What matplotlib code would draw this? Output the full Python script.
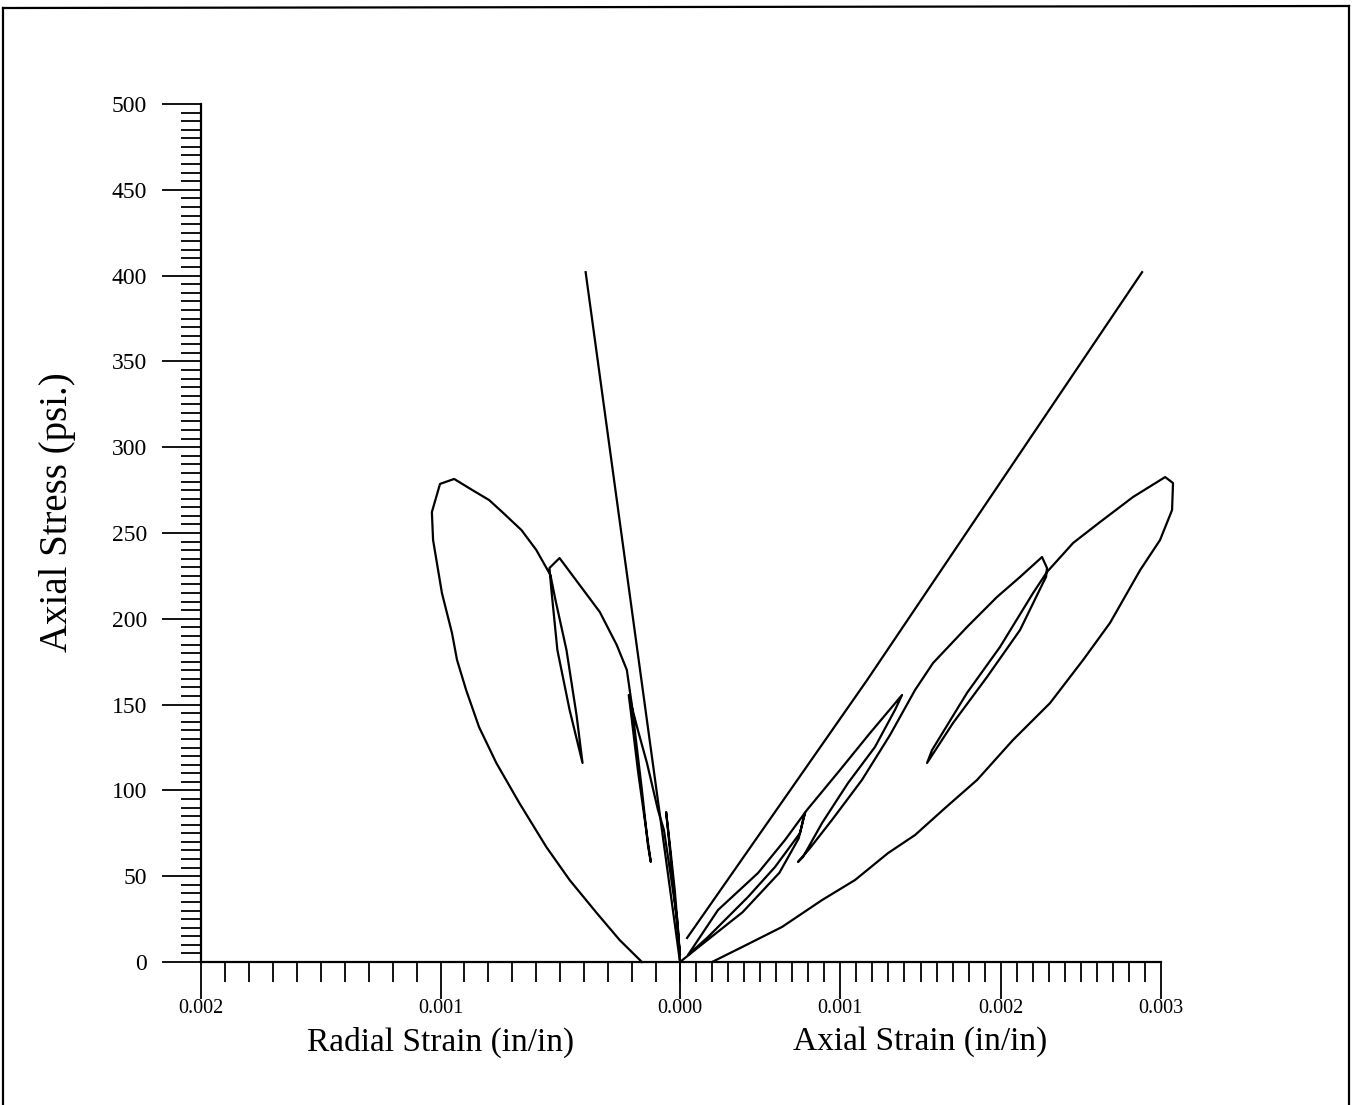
import matplotlib
matplotlib.use('Agg')
import numpy as np
import matplotlib.pyplot as plt
from matplotlib.ticker import MultipleLocator, FixedLocator, FixedFormatter
from matplotlib.lines import Line2D

# ---------------- data (strain in units of 0.001 in/in, stress in psi) -------------
# cyclic loading path, radial side
radial_strain_milli = [0, 0.008, 0.022, 0.040, 0.058,
                       0.048, 0.030, 0.012, 0.0,
                       0.013, 0.042, 0.067, 0.092, 0.138, 0.176, 0.214,
                       0.201, 0.176, 0.147, 0.122,
                       0.134, 0.159, 0.184, 0.201, 0.222, 0.264, 0.335, 0.419, 0.503,
                       0.545, 0.537, 0.512, 0.461, 0.407,
                       0.432, 0.474, 0.520, 0.541, 0.600, 0.662, 0.742, 0.797, 0.868, 0.943,
                       1.002, 1.036, 1.031, 0.994, 0.952, 0.931, 0.893, 0.839, 0.767, 0.671,
                       0.558, 0.461, 0.348, 0.252, 0.159]
radial_stress = [0, 18.6, 42.0, 65.3, 87.4,
                 74.0, 47.8, 21.6, 4.1,
                 26.2, 53.6, 76.9, 88.6, 116.0, 135.2, 155.6,
                 141.0, 111.9, 82.8, 58.3,
                 68.2, 100.2, 129.4, 149.8, 170.2, 184.7, 204.0, 219.7, 235.4,
                 229.6, 216.8, 181.8, 146.9, 116.0,
                 143.9, 181.8, 211.0, 225.5, 240.1, 251.7, 262.2, 269.2, 275.1, 281.5,
                 278.6, 262.2, 245.9, 215.0, 191.7, 176.0, 158.5, 136.9, 116.0, 92.7,
                 67.0, 47.8, 28.6, 12.8, 0]

# cyclic loading path, axial side
axial_strain_milli = [0, 0.12, 0.39, 0.62, 0.74, 0.78,
                      0.767, 0.749, 0.593, 0.424, 0.175, 0.05,
                      0.237, 0.487, 0.655, 0.792, 0.998, 1.185, 1.385,
                      1.341, 1.216, 1.048, 0.886, 0.767, 0.736,
                      0.811, 0.948, 1.135, 1.310, 1.466, 1.578, 1.790, 1.977, 2.121, 2.258,
                      2.289, 2.283, 2.264, 2.121, 1.915, 1.703, 1.541,
                      1.572, 1.790, 1.996, 2.202, 2.289, 2.452, 2.620, 2.826, 3.026,
                      3.075, 3.069, 2.994, 2.870, 2.682, 2.514, 2.308, 2.077, 1.853, 1.653,
                      1.466, 1.298, 1.092, 0.886, 0.636, 0.387, 0.200]
axial_stress = [0, 9, 29, 52, 72, 87,
                82.7, 75.2, 55.4, 37.9, 14.6, 4.1,
                30.3, 51.9, 71.1, 88.6, 111.9, 133.4, 155.6,
                146.9, 125.3, 104.3, 81.0, 61.2, 58.3,
                66.4, 82.8, 106.1, 132.3, 158.5, 174.2, 195.2, 212.7, 224.4, 236.0,
                229.6, 224.4, 220.9, 193.5, 166.1, 139.3, 116.0,
                123.5, 156.8, 183.6, 215.0, 227.3, 244.2, 256.4, 271.0, 282.6,
                279.1, 263.4, 245.9, 228.4, 197.6, 176.0, 150.9, 129.4, 106.1, 89.7,
                74.0, 63.5, 47.8, 36.1, 20.4, 8.7, 0]

# straight reference lines
radial_line_strain_milli = [0, 0.394]
radial_line_stress = [0, 402]
axial_line_strain_milli = [0.044, 1.167, 2.882]
axial_line_stress = [14, 164.3, 402]

radial_ticks = [0.002, 0.001]
radial_tick_labels = ['0.002', '0.001']
axial_ticks = [0.0, 0.001, 0.002, 0.003]
axial_tick_labels = ['0.000', '0.001', '0.002', '0.003']

# ---------------- figure ----------------
plt.rcParams['font.family'] = ['Liberation Serif', 'DejaVu Serif']
W, H = 1353, 1105
fig = plt.figure(figsize=(W / 100, H / 100), dpi=100)

def fx(px):
    return px / W

def fy(py):
    return 1 - py / H

axL = fig.add_axes([fx(201), fy(962), fx(680) - fx(201), fy(104) - fy(962)])
axR = fig.add_axes([fx(680), fy(962), fx(1161) - fx(680), fy(104) - fy(962)])

lw = 1.6
axL.plot(np.array(radial_strain_milli) * 1e-3, radial_stress, color='black', lw=lw,
         clip_on=False)
axL.plot(np.array(radial_line_strain_milli) * 1e-3, radial_line_stress, color='black',
         lw=lw, clip_on=False)
axR.plot(np.array(axial_strain_milli) * 1e-3, axial_stress, color='black', lw=lw,
         clip_on=False)
axR.plot(np.array(axial_line_strain_milli) * 1e-3, axial_line_stress, color='black',
         lw=lw, clip_on=False)

axL.set_xlim(0.002, 0.0)
axR.set_xlim(0.0, 0.003)
for ax in (axL, axR):
    ax.set_ylim(0, 500)
    ax.set_facecolor('none')
    ax.spines['top'].set_visible(False)
    ax.spines['right'].set_visible(False)
    ax.spines['bottom'].set_linewidth(1.6)
    ax.xaxis.set_minor_locator(MultipleLocator(0.0001))
    ax.tick_params(axis='x', which='major', direction='out', length=26.5, width=1.3,
                   labelsize=14.5, pad=0)
    ax.tick_params(axis='x', which='minor', direction='out', length=14.4, width=1.3)

axL.spines['left'].set_linewidth(1.6)
axR.spines['left'].set_visible(False)

axL.xaxis.set_major_locator(FixedLocator(radial_ticks))
axL.xaxis.set_major_formatter(FixedFormatter(radial_tick_labels))
axR.xaxis.set_major_locator(FixedLocator(axial_ticks))
axR.xaxis.set_major_formatter(FixedFormatter(axial_tick_labels))

axL.yaxis.set_major_locator(MultipleLocator(50))
axL.yaxis.set_minor_locator(MultipleLocator(5))
axL.tick_params(axis='y', which='major', direction='out', length=28, width=1.3,
                labelsize=17, pad=11)
axL.tick_params(axis='y', which='minor', direction='out', length=14.4, width=1.3)
axR.tick_params(axis='y', which='both', left=False, labelleft=False)

# axis titles
fig.text(fx(441), fy(1042), 'Radial Strain (in/in)', ha='center', va='center', fontsize=24)
fig.text(fx(920), fy(1042), 'Axial Strain (in/in)', ha='center', va='center', fontsize=24)
fig.text(fx(57), fy(512), 'Axial Stress (psi.)', ha='center', va='center',
         fontsize=28, rotation=90)

# outer frame of the scanned page
for xs, ys in [([fx(3), fx(3)], [0, fy(8)]),
               ([fx(3), fx(1349)], [fy(8), fy(6)]),
               ([fx(1349), fx(1349)], [fy(6), 0])]:
    fig.add_artist(Line2D(xs, ys, transform=fig.transFigure, color='black', lw=1.6))

fig.savefig('out.png', dpi=100)
